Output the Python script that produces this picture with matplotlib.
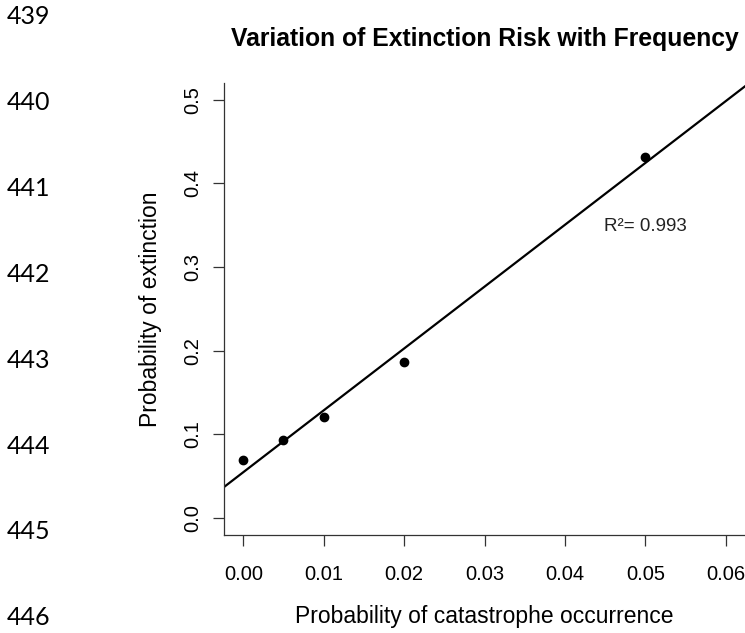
import matplotlib
matplotlib.use("Agg")
import matplotlib.pyplot as plt
import numpy as np

# data
freq = [0.0, 0.005, 0.01, 0.02, 0.05]
extinction = [0.069, 0.093, 0.121, 0.187, 0.432]
x_ticks = [0.00, 0.01, 0.02, 0.03, 0.04, 0.05, 0.06]
y_ticks = [0.0, 0.1, 0.2, 0.3, 0.4, 0.5]
line_numbers = ["439", "440", "441", "442", "443", "444", "445", "446"]
r2_label = "R²= 0.993"

plt.rcParams['font.family'] = ['Liberation Sans', 'DejaVu Sans']

fig = plt.figure(figsize=(7.45, 6.33), dpi=100)
ax = fig.add_axes([224 / 745, (633 - 534.7) / 633, 521 / 745, 451.7 / 633])

# points + least squares line (like abline(lm(...)) in R)
ax.plot(freq, extinction, 'o', color='black', markersize=6)
slope, icpt = np.polyfit(freq, extinction, 1)
xl = (-0.0024, 0.0624)
ax.plot(xl, [icpt + slope * xl[0], icpt + slope * xl[1]], color='black', lw=1.6)
ax.set_xlim(xl)
ax.set_ylim(-0.02, 0.52)

ax.text(0.05, 0.348, r2_label, ha='center', va='center', fontsize=13.5, color='#222222')

# R style axes: left + bottom only
for s in ['top', 'right']:
    ax.spines[s].set_visible(False)
for s in ['left', 'bottom']:
    ax.spines[s].set_color('#333333')
    ax.spines[s].set_linewidth(0.9)

ax.set_xticks(x_ticks)
ax.set_xticklabels([f"{v:.2f}" for v in x_ticks])
ax.set_yticks(y_ticks)
ax.set_yticklabels([f"{v:.1f}" for v in y_ticks])
ax.tick_params(axis='both', direction='out', length=8, width=0.9, color='#333333',
               labelsize=14.5)
ax.tick_params(axis='x', pad=14)
ax.tick_params(axis='y', labelrotation=90, pad=8)
for lab in ax.get_yticklabels():
    lab.set_va('center')

ax.set_xlabel("Probability of catastrophe occurrence", fontsize=16.5)
ax.xaxis.set_label_coords(0.5, -0.182)
ax.xaxis.label.set_va('center')
ax.set_ylabel("Probability of extinction", fontsize=16.5)
ax.yaxis.set_label_coords(-0.142, 0.5)
ax.yaxis.label.set_va('center')

fig.text(485 / 745, (633 - 46) / 633, "Variation of Extinction Risk with Frequency",
         ha='center', va='baseline', fontsize=17.8, fontweight='bold')

# manuscript line numbers down the left side
for i, n in enumerate(line_numbers):
    yy = 17 + 85.8 * i
    fig.text(7 / 745, (633 - yy) / 633, n, ha='left', va='center',
             fontsize=18, family=['Lato', 'DejaVu Sans'])

fig.savefig("out.png", dpi=100)
